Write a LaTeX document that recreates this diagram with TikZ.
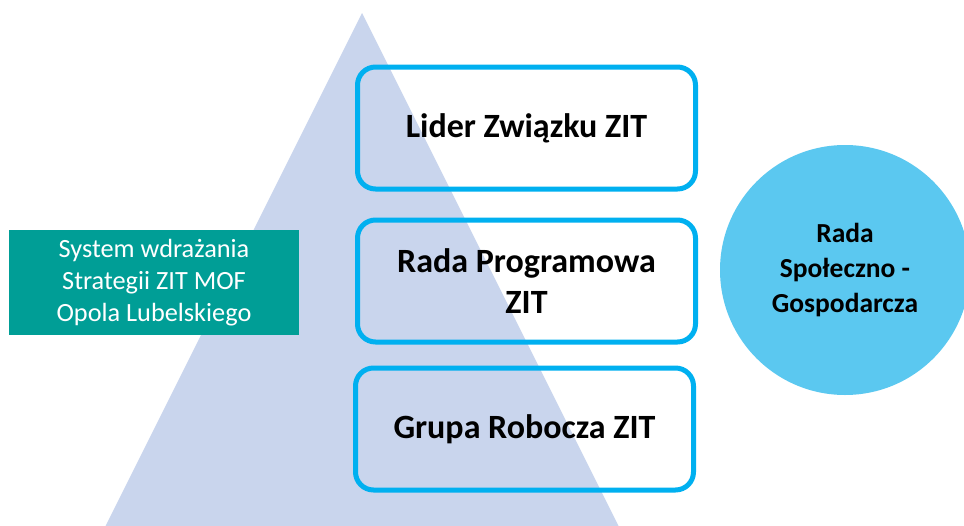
\documentclass[tikz,border=0pt]{standalone}
\usepackage{fontspec}
\setmainfont{Carlito}
\definecolor{tri}{RGB}{201,213,237}
\definecolor{teal1}{RGB}{0,158,150}
\definecolor{cyanline}{RGB}{0,176,240}
\definecolor{circ}{RGB}{91,200,240}
\tikzset{
  level/.style={draw=cyanline, line width=5pt, rounded corners=18pt, minimum width=338pt, minimum height=122pt, inner sep=0pt, align=center, font=\fontsize{34}{41}\selectfont\bfseries},
  sysbox/.style={fill=teal1, text=white, minimum width=290pt, minimum height=105pt, inner sep=0pt, align=center, font=\fontsize{26.3}{32}\selectfont},
  council/.style={circle, fill=circ, minimum size=250pt, inner sep=0pt, align=center, font=\fontsize{27.5}{35}\selectfont\bfseries}
}
\begin{document}
\begin{tikzpicture}[x=1pt,y=-1pt]
\useasboundingbox (0,0) rectangle (964,525);
\fill[white] (0,0) rectangle (964,525);
\begin{scope}
\clip (0,0) rectangle (964,525);
\fill[tri] (362,13) -- (102,533) -- (622,533) -- cycle;
\node[council] (rsg) at (845,270) {Rada\\Społeczno -\\Gospodarcza};
\end{scope}
\node[sysbox] (sys) at (154,282.5) {System wdrażania\\Strategii ZIT MOF\\Opola Lubelskiego};
\node[level] (lider) at (526.5,128) {Lider Związku ZIT};
\node[level] (rada) at (526.5,281) {Rada Programowa\\ZIT};
\node[level] (grupa) at (524.5,429) {Grupa Robocza ZIT};
\end{tikzpicture}
\end{document}
